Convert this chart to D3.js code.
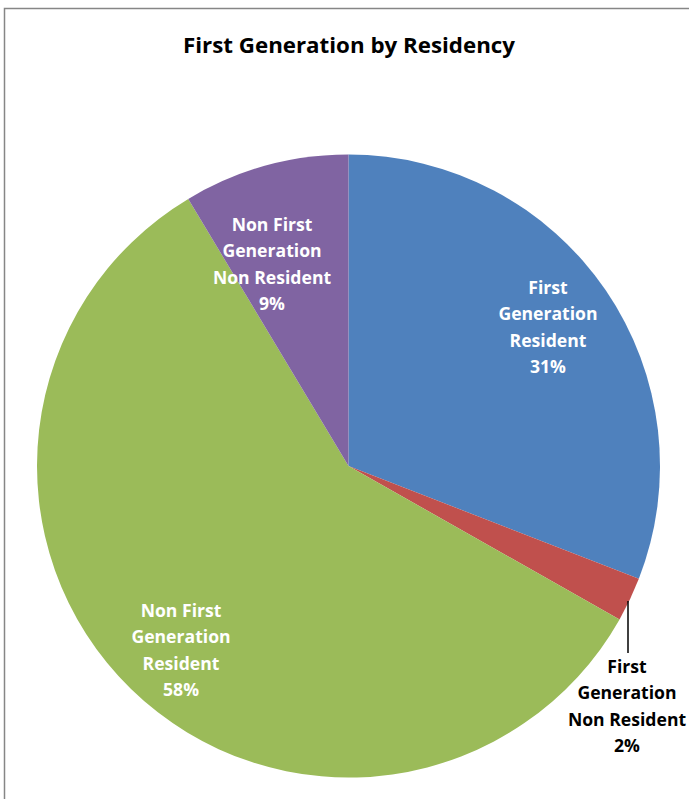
<!DOCTYPE html>
<html><head><meta charset="utf-8">
<script src="https://cdn.jsdelivr.net/npm/d3@7"></script>
<style>html,body{margin:0;padding:0;background:#fff;}svg{display:block;}</style>
</head><body>
<script>
const title = "First Generation by Residency";
const categories = ["First Generation Resident", "First Generation Non Resident", "Non First Generation Resident", "Non First Generation Non Resident"];
const labelLines = [["First","Generation","Resident"],["First","Generation","Non Resident"],["Non First","Generation","Resident"],["Non First","Generation","Non Resident"]];
const values = [30.9, 2.3, 58.2, 8.6];
const percentLabels = ["31%", "2%", "58%", "9%"];
const colors = ["#4F81BD", "#C0504D", "#9BBB59", "#8064A2"];

const W = 689, H = 799;
const cx = 348.5, cy = 466, R = 311.5;
const FONT = "'Open Sans', Lato, sans-serif";
const svg = d3.select("body").append("svg").attr("width", W).attr("height", H);
svg.append("rect").attr("x", 4.5).attr("y", 8.5).attr("width", W + 10).attr("height", H + 10)
  .attr("fill", "#fff").attr("stroke", "#868686").attr("stroke-width", 1.5);

svg.append("text").attr("x", 349).attr("y", 53).attr("text-anchor", "middle")
  .attr("font-family", FONT).attr("font-weight", "bold")
  .attr("font-size", 22).attr("fill", "#000")
  .attr("textLength", 332).attr("lengthAdjust", "spacingAndGlyphs").text(title);

const data = categories.map((c, i) => ({c, v: values[i], lines: labelLines[i].concat([percentLabels[i]]), color: colors[i]}));
const pie = d3.pie().value(d => d.v).sort(null);
const arc = d3.arc().innerRadius(0).outerRadius(R);
const arcs = pie(data);
const g = svg.append("g").attr("transform", `translate(${cx},${cy})`);
g.selectAll("path").data(arcs).join("path").attr("d", arc).attr("fill", d => d.data.color);

const labelCenters = [[548, 327], [627, 706], [181, 650], [272, 264]];
const labelColors = ["#fff", "#000", "#fff", "#fff"];
const lineH = 26.3;
arcs.forEach((a, i) => {
  const x = labelCenters[i][0] - cx, y = labelCenters[i][1] - cy;
  const t = g.append("text").attr("text-anchor", "middle")
    .attr("font-family", FONT).attr("font-weight", "bold")
    .attr("font-size", 17.6).attr("fill", labelColors[i]);
  const n = a.data.lines.length;
  a.data.lines.forEach((ln, k) => {
    t.append("tspan").attr("x", x).attr("y", y + (k - (n - 1) / 2) * lineH + 6.5).text(ln);
  });
  if (i === 1) {
    g.append("line").attr("x1", 628 - cx).attr("x2", 628 - cx)
      .attr("y1", 601 - cy).attr("y2", 653 - cy).attr("stroke", "#000").attr("stroke-width", 1.5);
  }
});
</script>
</body></html>
